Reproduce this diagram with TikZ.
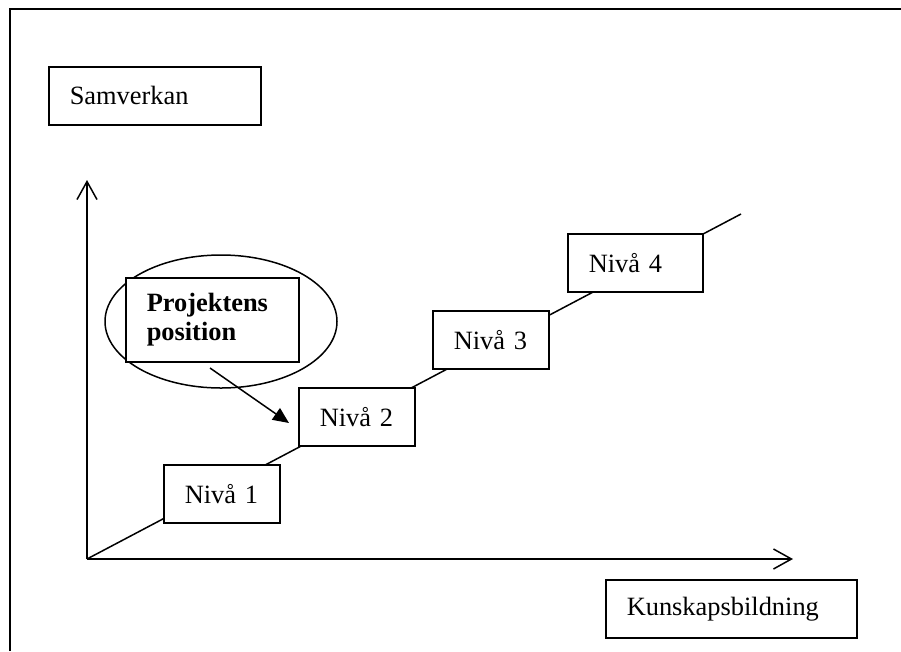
\documentclass[tikz,border=0pt]{standalone}
\usepackage{fontspec}
\setmainfont{Liberation Serif}
\usetikzlibrary{arrows.meta}

\begin{document}
\begin{tikzpicture}[x=1pt,y=-1pt,line width=1.5pt,
  lvlbox/.style={draw,fill=white,anchor=north west,inner xsep=21pt,inner ysep=0pt,
    minimum height=58pt,align=left,font=\fontsize{26.4}{29}\selectfont},
  axis/.style={-{Straight Barb[length=18pt,width=20pt]}},
  pointer/.style={-{Triangle[length=16pt,width=14pt]}}]
\useasboundingbox (0,0) rectangle (901,651);

\draw[line width=2pt] (10,651) -- (10,9) -- (901,9);

\coordinate (O) at (87,559);
\coordinate (Ytop) at (87,180);
\coordinate (Xend) at (793,559);
\coordinate (Lend) at (741,214);
\coordinate (Pfrom) at (210,368);
\coordinate (Pto) at (289,423);

\draw[axis] (O) -- (Ytop);
\draw[axis] (O) -- (Xend);
\draw (O) -- (Lend);

\node[lvlbox,text width=170pt] (samverkan) at (48,66) {Samverkan};
\node[lvlbox,text width=209pt] (kunskap) at (605,579) {Kunskapsbildning};

\node[lvlbox,text width=74pt] (niva1) at (163,464) {Nivå 1};
\node[lvlbox,text width=74pt] (niva2) at (298,387) {Nivå 2};
\node[lvlbox,text width=74pt] (niva3) at (432,310) {Nivå 3};
\node[lvlbox,text width=93pt] (niva4) at (567,233) {Nivå 4};

\draw (221,321.5) ellipse [x radius=116, y radius=66.5];
\node[lvlbox,text width=131pt,minimum height=84pt,
  font=\fontsize{26.4}{29}\selectfont\bfseries] (projekt) at (125,277) {Projektens\\position};
\draw[pointer] (Pfrom) -- (Pto);

\end{tikzpicture}
\end{document}
